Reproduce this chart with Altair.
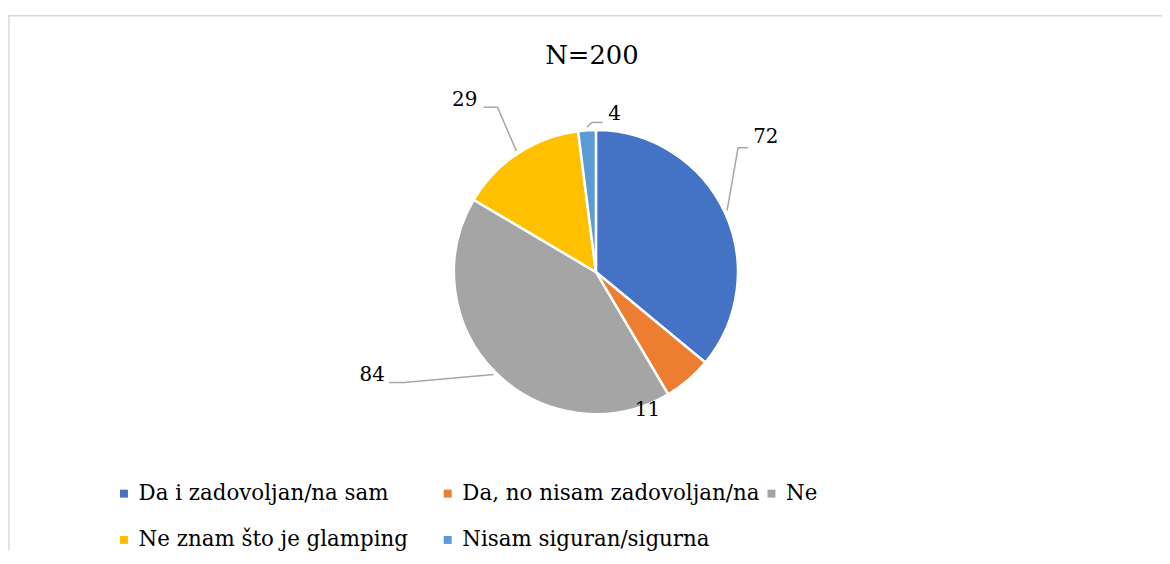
import altair as alt
import pandas as pd

# ---- data ----
CATEGORIES = [
    "Da i zadovoljan/na sam",
    "Da, no nisam zadovoljan/na",
    "Ne",
    "Ne znam što je glamping",
    "Nisam siguran/sigurna",
]
VALUES = [72, 11, 84, 29, 4]
TITLE = "N=200"

# ---- styles ----
COLORS = ["#4472C4", "#ED7D31", "#A5A5A5", "#FFC000", "#5B9BD5"]
FONT = "DejaVu Serif"
W, H = 1162, 544
CX, CY, R = 592, 264, 143
R0 = 146  # radius where leader lines start

# label / leader-line placement offsets (pixels, relative to the slice's mid-edge point)
LABEL_LAYOUT = {
    "Da i zadovoljan/na sam": {"label": (39, -74), "leader": [(11, -63), (21, -63)]},
    "Da, no nisam zadovoljan/na": {"label": (-43, 28), "leader": None},
    "Ne": {"label": (-122, 0), "leader": [(-90, 8), (-105, 8)]},
    "Ne znam što je glamping": {"label": (-52, -51), "leader": [(-19, -44), (-33, -44)]},
    "Nisam siguran/sigurna": {"label": (28, -13), "leader": [(5, -5), (16, -5)]},
}

df = pd.DataFrame({"category": CATEGORIES, "value": VALUES, "idx": list(range(len(VALUES)))})

pie = alt.Chart(df).mark_arc(outerRadius=R, stroke="white", strokeWidth=2.5).encode(
    theta=alt.Theta("value:Q", stack=True),
    order=alt.Order("idx:Q"),
    x=alt.value(CX),
    y=alt.value(CY),
    color=alt.Color(
        "category:N",
        sort=CATEGORIES,
        scale=alt.Scale(domain=CATEGORIES, range=COLORS),
        legend=alt.Legend(
            title=None,
            orient="none",
            legendX=106,
            legendY=476,
            direction="horizontal",
            columns=3,
            gridAlign="all",
            symbolType="square",
            symbolSize=64,
            symbolStrokeWidth=0,
            labelFont=FONT,
            labelFontSize=21.5,
            labelColor="black",
            labelLimit=600,
            labelOffset=4,
            columnPadding=1,
            rowPadding=24,
            padding=0,
        ),
    ),
)

base = (
    alt.Chart(df)
    .transform_window(cum="sum(value)", frame=[None, 0], sort=[alt.SortField("idx")])
    .transform_joinaggregate(total="sum(value)")
    .transform_calculate(
        mid="2*PI*(datum.cum - datum.value/2)/datum.total",
    )
    .transform_calculate(
        px=f"{CX} + {R0}*sin(datum.mid)",
        py=f"{CY} - {R0}*cos(datum.mid)",
    )
)

layers = [pie]
for cat in CATEGORIES:
    lay = LABEL_LAYOUT[cat]
    sub = base.transform_filter(alt.datum.category == cat)
    lx, ly = lay["label"]
    layers.append(
        sub.mark_text(
            dx=lx, dy=ly, font=FONT, fontSize=20, color="black",
            align="center", baseline="middle",
        ).encode(
            x=alt.X("px:Q", scale=None, axis=None),
            y=alt.Y("py:Q", scale=None, axis=None),
            text=alt.Text("value:Q"),
        )
    )
    if lay["leader"]:
        (ex, ey), (fx, fy) = lay["leader"]
        seg = sub.transform_calculate(
            ex=f"datum.px + {ex}", ey=f"datum.py + {ey}",
            fx=f"datum.px + {fx}", fy=f"datum.py + {fy}",
        )
        layers.append(
            seg.mark_rule(color="#A6A6A6", strokeWidth=1.5).encode(
                x=alt.X("px:Q", scale=None, axis=None),
                y=alt.Y("py:Q", scale=None, axis=None),
                x2="ex:Q", y2="ey:Q",
            )
        )
        layers.append(
            seg.mark_rule(color="#A6A6A6", strokeWidth=1.5).encode(
                x=alt.X("ex:Q", scale=None, axis=None),
                y=alt.Y("ey:Q", scale=None, axis=None),
                x2="fx:Q", y2="fy:Q",
            )
        )

title = alt.Chart(pd.DataFrame({"t": [TITLE]})).mark_text(
    font=FONT, fontSize=26, color="black", align="center", baseline="middle"
).encode(text="t:N", x=alt.value(588), y=alt.value(46))

border_top = alt.Chart(pd.DataFrame({"t": [TITLE]})).mark_rule(color="#D9D9D9", strokeWidth=1.5).encode(
    x=alt.value(0), x2=alt.value(W), y=alt.value(6)
)
border_left = alt.Chart(pd.DataFrame({"t": [TITLE]})).mark_rule(color="#D9D9D9", strokeWidth=1.5).encode(
    x=alt.value(1), y=alt.value(6), y2=alt.value(H)
)

chart = (
    alt.layer(border_top, border_left, *layers, title)
    .properties(width=W, height=H, autosize=alt.AutoSizeParams(type="none"), padding=0)
    .configure_view(stroke=None)
    .resolve_scale(x="independent", y="independent")
)

chart.save("out.html", embed_options={"renderer": "svg", "actions": False})
